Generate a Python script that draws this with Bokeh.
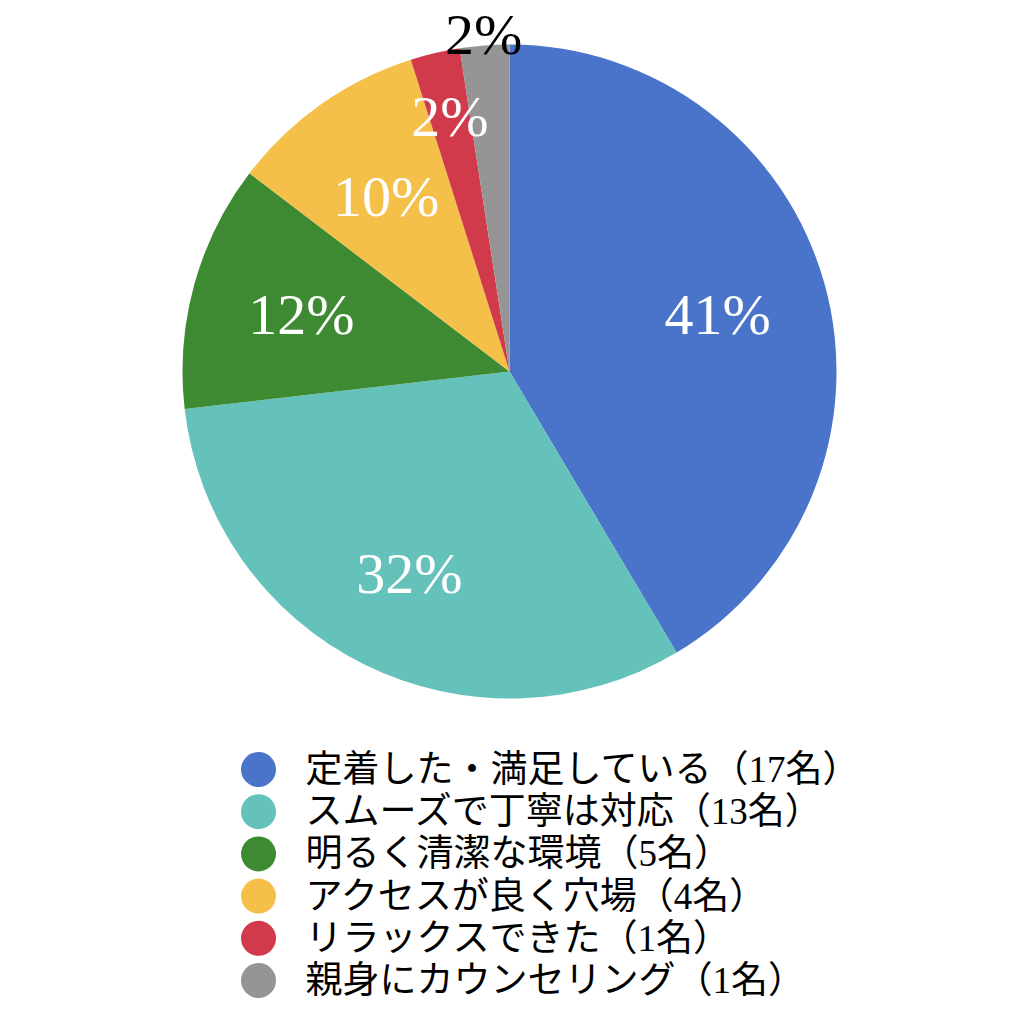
import math
from bokeh.plotting import figure
from bokeh.models import Range1d, ColumnDataSource
from bokeh.core.properties import value
from bokeh.embed import file_html
from bokeh.resources import INLINE

categories = ["定着した・満足している", "スムーズで丁寧は対応", "明るく清潔な環境",
              "アクセスが良く穴場", "リラックスできた", "親身にカウンセリング"]
counts = [17, 13, 5, 4, 1, 1]
colors = ["#4a74c9", "#64c2bb", "#3e8a32", "#f4c04a", "#d13a4b", "#959595"]
label_colors = ["white", "white", "white", "white", "white", "black"]
label_radius_frac = [0.66, 0.69, 0.66, 0.655, 0.80, 1.035]

W, H = 1008, 1001
p = figure(width=W, height=H, output_backend="svg", toolbar_location=None,
           x_range=Range1d(0, W), y_range=Range1d(0, H), min_border=0)
p.axis.visible = False
p.grid.visible = False
p.outline_line_color = None
p.background_fill_color = "white"

cx, cy, r = 509, H - 371, 327
total = sum(counts)
starts, ends, lx, ly, labels = [], [], [], [], []
cum = 0
for i, c in enumerate(counts):
    a0 = math.pi / 2 - 2 * math.pi * cum / total
    cum += c
    a1 = math.pi / 2 - 2 * math.pi * cum / total
    starts.append(a0)
    ends.append(a1)
    mid = (a0 + a1) / 2
    rr = r * label_radius_frac[i]
    lx.append(cx + rr * math.cos(mid))
    ly.append(cy + rr * math.sin(mid))
    labels.append(f"{round(100 * c / total)}%")

src = ColumnDataSource(dict(start=starts, end=ends, color=colors))
p.wedge(x=cx, y=cy, radius=r, start_angle="start", end_angle="end",
        direction="clock", fill_color="color", line_color=None, source=src)

lsrc = ColumnDataSource(dict(x=lx, y=ly, t=labels, c=label_colors))
p.text(x="x", y="y", text="t", text_color="c", source=lsrc,
       text_font=value("'Liberation Serif', serif"), text_font_size="58px",
       text_align="center", text_baseline="middle")

# legend
row_y = [H - (769 + 42.2 * i) for i in range(len(categories))]
leg_text = [f"{n}（{c}名）" for n, c in zip(categories, counts)]
gsrc = ColumnDataSource(dict(x=[258] * len(categories), y=row_y, c=colors,
                             tx=[305] * len(categories), t=leg_text))
p.scatter(x="x", y="y", size=35, marker="circle", fill_color="c",
          line_color=None, source=gsrc)
p.text(x="tx", y="y", text="t", source=gsrc, text_color="black",
       text_font=value("'Liberation Serif', 'Noto Sans CJK JP', serif"),
       text_font_size="37px", text_align="left", text_baseline="middle")

open("out.html", "w").write(file_html(p, INLINE))
